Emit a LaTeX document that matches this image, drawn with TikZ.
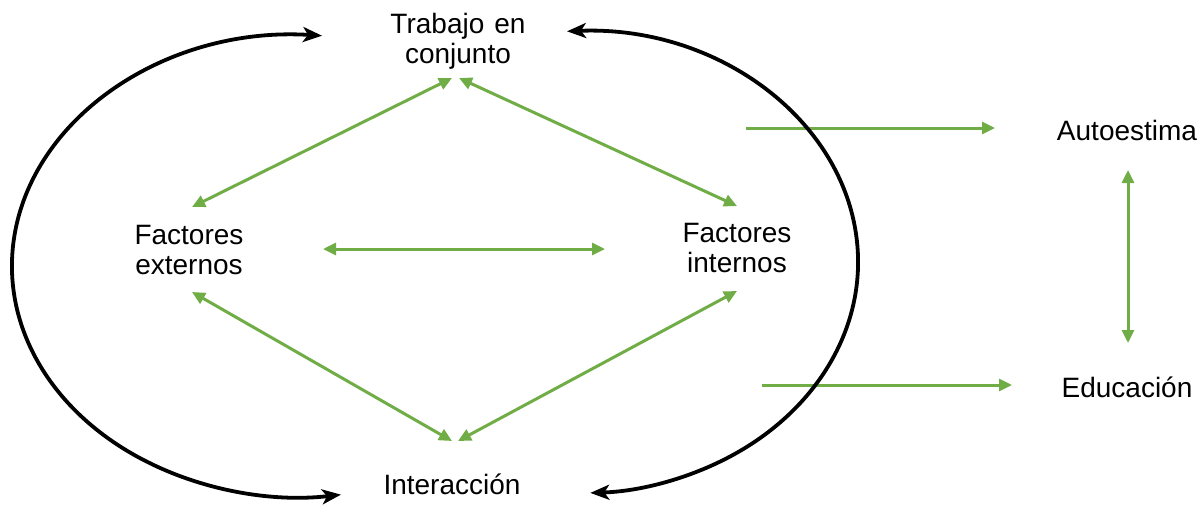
\documentclass[tikz,border=0pt]{standalone}
\usepackage{fontspec}
\setmainfont{Liberation Sans}
\usetikzlibrary{arrows.meta}
\definecolor{grn}{RGB}{112,173,71}
\begin{document}
\begin{tikzpicture}[x=1pt,y=-1pt,
  lbl/.style={font=\fontsize{28}{30}\selectfont, align=center, inner sep=0pt, text=black},
  garrow/.style={draw=grn, line width=3pt, {Triangle[length=13pt,width=12pt]}-{Triangle[length=13pt,width=12pt]}},
  gsingle/.style={draw=grn, line width=3pt, -{Triangle[length=13pt,width=12pt]}},
  barrow/.style={draw=black, line width=3.8pt, {Stealth[length=19pt,width=15pt,inset=5pt]}-{Stealth[length=19pt,width=15pt,inset=5pt]}}]
\useasboundingbox (0,0) rectangle (1202,504);

% labels
\node[lbl] (trab) at (458,41.5) {Trabajo\hspace{10pt}en\\conjunto};
\node[lbl] (ext) at (189,250) {Factores\\externos};
\node[lbl] (int) at (737,247.5) {Factores\\internos};
\node[lbl, anchor=base] (inter) at (452,494) {Interacción};
\node[lbl, anchor=base] (auto) at (1127,140) {Autoestima};
\node[lbl, anchor=base] (edu) at (1127,397) {Educación};

% connector end points
\coordinate (tL) at (452,78);
\coordinate (tR) at (459,78);
\coordinate (eU) at (192,207);
\coordinate (eD) at (192,292);
\coordinate (iU) at (737,206);
\coordinate (iD) at (737,291);
\coordinate (bL) at (452,441);
\coordinate (bR) at (458,441);
\coordinate (mL) at (323,249);
\coordinate (mR) at (605,249);
\coordinate (aS) at (746,128);
\coordinate (aE) at (995,128);
\coordinate (dS) at (762,385);
\coordinate (dE) at (1012,385);
\coordinate (aU) at (1128,170);
\coordinate (aD) at (1128,343);

% green connectors
\draw[garrow] (tL) -- (eU);
\draw[garrow] (tR) -- (iU);
\draw[garrow] (eD) -- (bL);
\draw[garrow] (iD) -- (bR);
\draw[garrow] (mL) -- (mR);
\draw[garrow] (aU) -- (aD);
\draw[gsingle] (aS) -- (aE);
\draw[gsingle] (dS) -- (dE);

% black arcs
\coordinate (lTop) at (322,35.7);
\coordinate (rTop) at (567,31.3);
\draw[barrow] (lTop) arc[start angle=274.4, end angle=81.8, x radius=288, y radius=231];
\draw[barrow] (rTop) arc[start angle=267.3, end angle=447.9, x radius=278, y radius=231];
\end{tikzpicture}
\end{document}
